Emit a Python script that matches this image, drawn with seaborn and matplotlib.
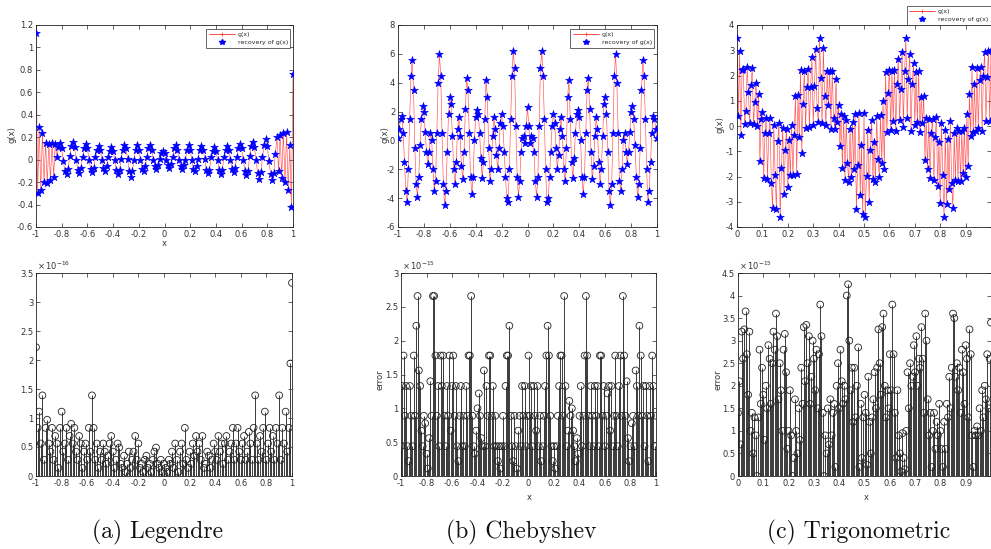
import numpy as np
import pandas as pd
import matplotlib
matplotlib.use("Agg")
import matplotlib.pyplot as plt
import seaborn as sns
from matplotlib.ticker import FuncFormatter, MultipleLocator
from matplotlib.lines import Line2D

# ---------------- data ----------------
# (a) Legendre: g(x) on [-1, 1]
leg_g = [1.13, -0.30, 0.29, -0.27, 0.24, -0.20, 0.15, -0.21, 0.14, -0.18, 0.15, -0.15, 0.14,
         0.02, 0.11, 0.15, 0.10, -0.01, -0.10, -0.13, -0.08,
         0.03, 0.12, 0.16, 0.11, 0.00, -0.09, -0.12, -0.07,
         0.02, 0.10, 0.14, 0.10, 0.00, -0.08, -0.11, -0.07,
         0.02, 0.09, 0.12, 0.09, 0.00, -0.07, -0.10, -0.06,
         0.02, 0.08, 0.11, 0.08, 0.00, -0.09, -0.13, -0.09,
         0.01, 0.09, 0.13, 0.10, 0.01, -0.10, -0.15, -0.10,
         0.00, 0.09, 0.13, 0.09, 0.00, -0.08, -0.10, -0.06,
         0.02, 0.10, 0.13, 0.09, 0.00, -0.06, -0.08, -0.05,
         0.01, 0.06, 0.08, 0.06, 0.00, -0.05, -0.07, -0.04,
         0.02, 0.10, 0.13, 0.09, 0.00, -0.06, -0.08, -0.05,
         0.00, 0.09, 0.13, 0.09, 0.00, -0.08, -0.10, -0.06,
         0.01, 0.09, 0.12, 0.09, 0.01, -0.09, -0.12, -0.09,
         0.02, 0.08, 0.11, 0.08, 0.00, -0.09, -0.13, -0.09,
         0.02, 0.09, 0.12, 0.09, 0.00, -0.08, -0.11, -0.07,
         0.02, 0.10, 0.14, 0.10, 0.00, -0.10, -0.14, -0.10,
         0.03, 0.12, 0.16, 0.11, 0.00, -0.12, -0.17, -0.11,
         0.02, 0.13, 0.18, 0.12, -0.01, -0.13, -0.18, -0.12,
         0.05, 0.20, -0.10, 0.22, -0.16, 0.24, -0.20, 0.25, -0.27, 0.13, -0.42, 0.76]

# (b) Chebyshev: g(x) on [-1, 1]
cheb_g = [0.2, 0.8, 1.5, 1.7, 0.5, -1.5, -3.5, -4.3, -2.0, 1.5,
          4.5, 5.6, 3.5, -0.5, -3.0, -3.9, -2.5, -0.3, 1.5, 2.4,
          2.0, 0.6, -0.8, -1.6, -0.8, 0.5, 0.0, -2.0, -3.5, -2.8,
          0.5, 4.0, 6.0, 4.5, 0.5, -3.0, -4.5, -3.5, -0.8, 1.8,
          3.0, 2.5, 0.3, -2.0, -3.0, -1.5, 0.8, 1.6, 0.3, -1.8,
          -2.7, -0.8, 2.2, 4.3, 3.5, 0.5, -2.5, -3.7, -2.5, 0.0,
          1.6, 2.1, 1.8, 0.5, -1.2, -2.6, -1.5, 1.5, 4.2, 3.0,
          -0.5, -2.8, -2.0, 0.3, 1.6, 0.8, -1.0, -2.0, -0.5, 1.2,
          1.8, 1.0, -0.8, -2.5, -4.0, -4.3, -2.0, 1.5, 4.5, 6.2,
          5.0, 1.0, -2.5, -3.9, -2.8, -0.8, 0.2, 0.3, -0.2, 1.0,
          2.3,
          1.0, -0.2, 0.3, 0.2, -0.8, -2.8, -3.9, -2.5, 1.0, 5.0,
          6.2, 4.5, 1.5, -2.0, -4.3, -4.0, -2.5, -0.8, 1.0, 1.8,
          1.2, -0.5, -2.0, -1.0, 0.8, 1.6, 0.3, -2.0, -2.8, -0.5,
          3.0, 4.2, 1.5, -1.5, -2.6, -1.2, 0.5, 1.8, 2.1, 1.6,
          0.0, -2.5, -3.7, -2.5, 0.5, 3.5, 4.3, 2.2, -0.8, -2.7,
          -1.8, 0.3, 1.6, 0.8, -1.5, -3.0, -2.0, 0.3, 2.5, 3.0,
          1.8, -0.8, -3.5, -4.5, -3.0, 0.5, 4.5, 6.0, 4.0, 0.5,
          -2.8, -3.5, -2.0, 0.0, 0.5, -0.8, -1.6, -0.8, 0.6, 2.0,
          2.4, 1.5, -0.3, -2.5, -3.9, -3.0, -0.5, 3.5, 5.6, 4.5,
          1.5, -2.0, -4.3, -3.5, -1.5, 0.5, 1.7, 1.5, 0.8, 0.2]

# (c) Trigonometric: g(x) on [0, 1]
trig_g = [3.50, 0.39, 2.97, -0.36, 2.20, 2.25, 0.08, 0.61, 2.32, 1.33,
          0.12, 1.61, 2.30, 0.07, 0.95, 1.72, -0.01, 1.26, -1.38, 0.29,
          0.57, -2.06, -0.27, 0.31, -2.09, -0.29, 0.32, -2.26, -3.23, 0.02,
          -1.93, -3.27, -0.59, 0.10, -3.60, -1.68, -0.06, -2.71, -0.96, -0.10,
          -2.43, -0.55, -1.96, 0.04, -1.95, -0.34, 1.18, -1.89, 1.24, -0.43,
          2.20, -1.07, 0.86, 2.19, -0.08, 1.54, 2.25, -0.04, 1.56, 2.75,
          0.03, 1.60, 3.06, 0.71, 0.16, 3.48, 1.90, 0.10, 3.09, 1.17,
          0.03, 2.19, 0.84, 2.18, -0.10, 2.19, 0.30, -0.11, 1.87, 0.15,
          0.83, -0.80, 0.47, -1.66, 0.41, -2.12, 0.25, -1.47, -2.20, -0.11,
          -2.02, 0.17, -1.72, 0.49, -3.28, -1.55, 0.50, -2.74, -0.77, -3.49,
          0.50, -3.59, -1.97, -0.14, -3.00, -0.95, 0.22, -2.11, -0.62, -2.23,
          0.38, -1.31, -2.00, 0.43, -1.45, 0.98, -1.69, 2.14, -0.23, 1.30,
          2.23, -0.15, 2.17, 0.19, 2.20, -0.21, 1.68, 2.66, 0.23, 1.48,
          2.93, -0.03, 2.19, 3.50, 0.30, 1.88, 2.86, -0.19, 1.66, 2.50,
          0.03, 2.15, 0.16, 2.16, -0.25, 1.14, 0.12, 1.19, -1.34, 0.33,
          -1.70, 0.27, -2.06, -0.29, 0.28, -2.14, -0.45, 0.34, -2.36, -0.65,
          -3.03, 0.10, -1.96, -3.61, -0.16, -3.08, -0.50, -2.50, 0.21, -2.27,
          -3.23, -0.28, -2.13, -0.06, -2.18, -0.19, -2.19, -0.19, -1.87, -0.06,
          -2.03, 0.49, -1.58, 1.26, -0.41, 2.32, -0.25, 1.67, -0.20, 2.31,
          -0.08, 1.83, 2.32, -0.19, 1.98, 2.95, 0.20, 1.94, 2.97, 0.19,
          3.00]

# errors (in units of the axis multiplier)
leg_err = [2.22, 0.83, 1.11, 0.56, 1.39, 0.28, 0.83, 0.97, 0.56, 0.42,
           0.83, 0.28, 0.69, 0.56, 0.14, 0.83, 1.11, 0.42, 0.56, 0.83,
           0.28, 0.69, 0.90, 0.56, 0.83, 0.42, 0.28, 0.69, 0.56, 0.14,
           0.42, 0.56, 0.28, 0.83, 0.42, 1.39, 0.83, 0.28, 0.56, 0.14,
           0.42, 0.28, 0.56, 0.42, 0.21, 0.35, 0.56, 0.69, 0.42, 0.14,
           0.28, 0.56, 0.49, 0.21, 0.14, 0.35, 0.07, 0.21, 0.42, 0.14,
           0.28, 0.42, 0.69, 0.28, 0.56, 0.14, 0.21, 0.07, 0.28, 0.35,
           0.14, 0.21, 0.07, 0.28, 0.42, 0.49, 0.21, 0.14, 0.28, 0.07,
           0.21, 0.14, 0.07, 0.28, 0.21, 0.42, 0.14, 0.56, 0.28, 0.07,
           0.42, 0.56, 0.21, 0.83, 0.28, 0.14, 0.42, 0.21, 0.56, 0.35,
           0.69, 0.42, 0.56, 0.28, 0.69, 0.14, 0.21, 0.42, 0.35, 0.14,
           0.28, 0.56, 0.42, 0.28, 0.69, 0.42, 0.56, 0.21, 0.56, 0.69,
           0.28, 0.42, 0.56, 0.83, 0.28, 0.56, 0.83, 0.42, 0.28, 0.56,
           0.69, 0.28, 0.42, 0.76, 0.56, 0.28, 0.83, 1.39, 0.56, 0.28,
           0.69, 0.42, 0.83, 1.11, 0.28, 0.56, 0.83, 0.42, 0.69, 0.28,
           0.83, 0.56, 1.39, 0.28, 0.83, 0.56, 1.11, 0.42, 0.83, 1.94,
           3.33]

cheb_err = [0.44, 1.33, 1.78, 0.89, 1.33, 0.44, 0.22, 1.33, 0.89, 0.44,
            1.78, 0.89, 2.22, 2.66, 1.56, 1.33, 0.67, 0.44, 0.89, 0.78,
            0.33, 0.11, 0.56, 1.40, 0.89, 2.66, 2.66, 1.78, 0.89, 1.33,
            0.44, 1.78, 1.33, 1.78, 0.89, 0.44, 1.33, 0.89, 1.78, 0.67,
            1.33, 1.78, 0.89, 1.33, 0.44, 0.22, 0.89, 1.33, 0.44, 0.89,
            0.44, 1.33, 0.89, 1.78, 1.78, 2.66, 0.89, 0.44, 0.33, 0.67,
            1.00, 1.22, 0.89, 0.56, 0.44, 1.56, 0.44, 1.33, 0.89, 1.78,
            1.78, 0.89, 1.33, 0.44, 0.89, 0.44, 0.22, 0.44, 0.11, 0.44,
            0.89, 0.44, 1.33, 1.78, 1.78, 2.22, 0.89, 0.44, 0.22, 0.89,
            0.44, 0.11, 0.67, 0.89, 0.44, 1.33, 0.89, 1.33, 0.44, 0.89,
            1.78, 0.89, 1.33, 0.44, 1.33, 0.89, 0.67, 1.33, 0.44, 0.89,
            0.22, 0.44, 0.89, 1.33, 1.78, 2.22, 1.78, 0.89, 0.44, 0.22,
            0.44, 0.11, 0.44, 0.89, 1.33, 1.78, 1.78, 0.89, 2.66, 1.33,
            0.44, 0.67, 1.11, 0.89, 1.00, 0.67, 0.44, 0.22, 0.56, 0.33,
            0.89, 1.33, 0.44, 0.89, 1.78, 2.66, 1.78, 0.89, 0.44, 1.33,
            0.89, 0.44, 1.33, 0.89, 1.33, 0.44, 1.78, 1.78, 0.89, 1.33,
            0.44, 0.89, 1.22, 1.33, 0.67, 1.33, 0.44, 0.89, 1.78, 0.89,
            0.44, 1.33, 1.78, 0.89, 2.66, 1.78, 0.89, 1.40, 0.56, 0.22,
            0.44, 0.78, 0.89, 0.44, 1.56, 1.33, 0.89, 2.22, 1.78, 0.89,
            1.33, 0.44, 1.33, 0.89, 0.22, 1.33, 0.89, 1.78, 1.33, 0.44,
            0.89]

trig_err = [1.4, 2.1, 0.7, 3.2, 2.6, 3.25, 3.65, 2.7, 1.8, 3.2,
            1.0, 1.4, 0.5, 1.3, 0.9, 0.0, 1.3, 2.8, 1.6, 2.4,
            1.8, 0.8, 2.0, 1.5, 2.9, 2.6, 1.6, 2.5, 3.2, 2.8,
            3.6, 3.1, 1.7, 2.5, 1.9, 1.0, 2.8, 3.15, 2.3, 0.6,
            1.0, 1.9, 0.9, 0.0, 0.4, 1.7, 1.0, 0.5, 1.5, 0.8,
            2.4, 1.6, 3.3, 2.1, 3.35, 2.5, 3.1, 1.6, 2.2, 3.0,
            2.6, 1.9, 2.8, 1.5, 2.7, 3.8, 3.1, 1.4, 0.0, 0.9,
            0.5, 1.5, 0.7, 1.7, 0.9, 1.4, 1.6, 0.2, 2.0, 2.5,
            1.5, 2.8, 2.1, 1.6, 2.0, 1.7, 4.0, 4.25, 3.0, 1.9,
            2.4, 1.2, 2.4, 1.3, 2.0, 2.85, 0.2, 1.6, 0.4, 1.3,
            1.8, 1.4, 0.25, 2.2, 1.2, 0.5, 1.3, 1.7, 2.3, 1.5,
            2.4, 3.25, 2.5, 1.8, 3.3, 3.6, 2.0, 1.3, 1.9, 1.5,
            2.7, 1.9, 3.8, 2.7, 1.4, 0.4, 1.9, 0.9, 0.5, 0.1,
            0.95, 0.4, 0.15, 1.0, 2.3, 1.5, 2.5, 2.0, 2.2, 2.9,
            2.3, 3.1, 2.0, 2.6, 2.4, 3.3, 2.6, 1.4, 3.6, 3.0,
            1.7, 0.9, 1.4, 0.2, 1.0, 1.4, 0.6, 1.2, 0.9, 1.6,
            1.0, 0.6, 0.2, 1.2, 0.6, 1.6, 1.3, 2.2, 1.5, 2.4,
            3.6, 3.5, 2.2, 2.5, 1.9, 2.4, 1.4, 2.8, 2.3, 1.6,
            2.9, 2.6, 1.3, 3.25, 2.7, 0.9, 0.2, 1.0, 0.9, 1.1,
            0.9, 1.5, 1.0, 1.9, 1.3, 2.0, 1.7, 2.7, 1.5, 2.6,
            3.4]

captions = ["(a) Legendre", "(b) Chebyshev", "(c) Trigonometric"]
err_exponents = [-16, -15, -15]

# ---------------- style ----------------
sns.set_theme(style="ticks")
plt.rcParams["font.family"] = ["DejaVu Sans"]
TXT = "#333333"

W, H = 991, 549
fig = plt.figure(figsize=(W / 100, H / 100), dpi=100)


def pos(l, t, r, b):
    return [l / W, 1 - b / H, (r - l) / W, (b - t) / H]


fmt = FuncFormatter(lambda v, p: f"{v:g}" if abs(v) > 1e-12 else "0")


def style_axes(ax):
    for s in ax.spines.values():
        s.set_color("#222222")
        s.set_linewidth(0.6)
    ax.tick_params(direction="in", length=3, width=0.5, labelsize=6,
                   colors="#222222", labelcolor=TXT, top=True, right=True, pad=2)
    ax.xaxis.set_major_formatter(fmt)
    ax.yaxis.set_major_formatter(fmt)


def top_panel(rect, y, x0, x1, ylim, ystep, xstep):
    ax = fig.add_axes(rect)
    df = pd.DataFrame({"x": np.linspace(x0, x1, len(y)), "g": y})
    ax.plot(df["x"], df["g"], color="#ff3030", lw=0.45, marker="+", ms=2.5, mew=0.4,
            alpha=0.85, zorder=2)
    sns.scatterplot(data=df, x="x", y="g", ax=ax, marker="*", s=34, color="#0000ff",
                    edgecolor="#0000ff", linewidth=0.4, zorder=3, legend=False)
    ax.set_xlim(x0, x1)
    ax.set_ylim(*ylim)
    ax.xaxis.set_major_locator(MultipleLocator(xstep))
    ax.yaxis.set_major_locator(MultipleLocator(ystep))
    ax.set_xlabel("")
    ax.set_ylabel("")
    style_axes(ax)
    return ax


def bottom_panel(rect, y, x0, x1, ylim, ystep, xstep, exp):
    ax = fig.add_axes(rect)
    df = pd.DataFrame({"x": np.linspace(x0, x1, len(y)), "e": y})
    ax.vlines(df["x"], 0, df["e"], color="#3a3a3a", lw=0.7, zorder=2)
    sns.scatterplot(data=df, x="x", y="e", ax=ax, marker="o", s=24,
                    facecolor="none", edgecolor="#222222", linewidth=0.6,
                    zorder=3, legend=False)
    ax.set_xlim(x0, x1)
    ax.set_ylim(*ylim)
    ax.xaxis.set_major_locator(MultipleLocator(xstep))
    ax.yaxis.set_major_locator(MultipleLocator(ystep))
    ax.set_xlabel("")
    ax.set_ylabel("")
    style_axes(ax)
    ax.text(0.005, 1.006, r"$\times\,10^{%d}$" % exp, transform=ax.transAxes,
            fontsize=6, color=TXT, ha="left", va="bottom")
    return ax


ax1 = top_panel(pos(36, 25, 293, 227), leg_g, -1, 1, (-0.6, 1.2), 0.2, 0.2)
ax2 = top_panel(pos(398, 25, 657, 227), cheb_g, -1, 1, (-6, 8), 2, 0.2)
ax3 = top_panel(pos(737, 25, 991, 227), trig_g, 0, 1, (-4, 4), 1, 0.1)
ax3.set_xticks([0, 0.1, 0.2, 0.3, 0.4, 0.5, 0.6, 0.7, 0.8, 0.9])

bx1 = bottom_panel(pos(36, 273, 292, 476), leg_err, -1, 1, (0, 3.5), 0.5, 0.2, err_exponents[0])
bx2 = bottom_panel(pos(401, 273, 656, 476), cheb_err, -1, 1, (0, 3), 0.5, 0.2, err_exponents[1])
bx3 = bottom_panel(pos(738, 273, 991, 476), trig_err, 0, 1, (0, 4.5), 0.5, 0.1, err_exponents[2])
bx3.set_xticks([0, 0.1, 0.2, 0.3, 0.4, 0.5, 0.6, 0.7, 0.8, 0.9])

# legends
handles = [Line2D([], [], color="#ff3030", lw=0.6, marker="+", ms=3, mew=0.5),
           Line2D([], [], ls="none", marker="*", ms=4, color="#0000ff")]
labels = ["g(x)", "recovery of g(x)"]
leg_kw = dict(fontsize=4.5, frameon=True, fancybox=False, edgecolor="#222222",
              handlelength=4.2, handletextpad=0.4, borderpad=0.4, labelspacing=0.5,
              borderaxespad=0)
for ax in (ax1, ax2):
    lg = ax.legend(handles, labels, loc="upper right", bbox_to_anchor=(0.99, 0.98), **leg_kw)
    lg.get_frame().set_linewidth(0.6)
lg = fig.legend(handles, labels, loc="upper right", bbox_to_anchor=(0.9995, 1 - 6 / H), **leg_kw)
lg.get_frame().set_linewidth(0.6)

# axis labels
lab = dict(fontsize=6, color=TXT, ha="center", va="center")
fig.text(12 / W, 1 - 135 / H, "g(x)", rotation=90, **lab)
fig.text(385 / W, 1 - 135 / H, "g(x)", rotation=90, **lab)
fig.text(720 / W, 1 - 125 / H, "g(x)", rotation=90, **lab)
fig.text(164 / W, 1 - 243 / H, "x", **lab)
fig.text(380 / W, 1 - 380 / H, "error", rotation=90, **lab)
fig.text(718 / W, 1 - 380 / H, "error", rotation=90, **lab)
fig.text(529 / W, 1 - 497 / H, "x", **lab)
fig.text(866 / W, 1 - 497 / H, "x", **lab)

# captions (Computer Modern, shipped with matplotlib)
for cx, cap in zip([158, 521, 859], captions):
    fig.text(cx / W, 1 - 538 / H, cap, ha="center", va="baseline",
             family=["cmr10", "DejaVu Serif"], fontsize=17, color="#111111")

fig.savefig("out.png", dpi=100)
